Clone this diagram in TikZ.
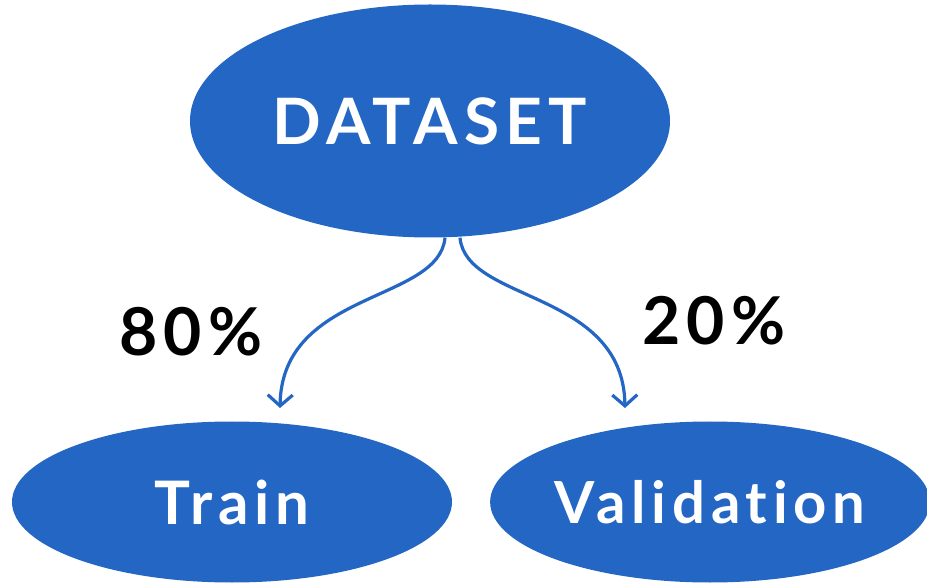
\documentclass[tikz,border=0pt]{standalone}
\usepackage{fontspec}
\setmainfont{Lato}
\newfontfamily\spaced[LetterSpace=10,Ligatures={NoCommon}]{Lato}
\usetikzlibrary{shapes.geometric,arrows.meta}
\definecolor{blu}{HTML}{2366C4}
\tikzset{
  blob/.style={ellipse, fill=blu, inner sep=0pt, text=white},
  flow/.style={draw=blu, line width=3.2pt, -{Straight Barb[length=11pt,width=25pt,line width=3.2pt]}},
  pct/.style={text=black, inner sep=0pt}
}
\begin{document}
\begin{tikzpicture}[x=1pt,y=-1pt]
\useasboundingbox (0,0) rectangle (927,585);
\node[blob, minimum width=480pt, minimum height=233pt, font=\spaced\bfseries\fontsize{64}{64}\selectfont] (dataset) at (430,121) {DATASET};
\node[blob, minimum width=440pt, minimum height=161pt, font=\spaced\bfseries\fontsize{60}{60}\selectfont] (train) at (232,502) {Train};
\node[blob, minimum width=434pt, minimum height=161pt, font=\spaced\bfseries\fontsize{58}{58}\selectfont] (valid) at (710,502) {Validation};
\node[pct, font=\spaced\bfseries\fontsize{66}{66}\selectfont] (p80) at (191,332) {80\%};
\node[pct, font=\spaced\bfseries\fontsize{66}{66}\selectfont] (p20) at (714,321) {20\%};
\coordinate (tend) at (280,408);
\coordinate (vend) at (625,408);
\draw[flow] ([xshift=15pt]dataset.south) .. controls +(-6,65) and (282,290) .. (tend);
\draw[flow] ([xshift=30pt]dataset.south) .. controls +(6,65) and (623,290) .. (vend);
\end{tikzpicture}
\end{document}
